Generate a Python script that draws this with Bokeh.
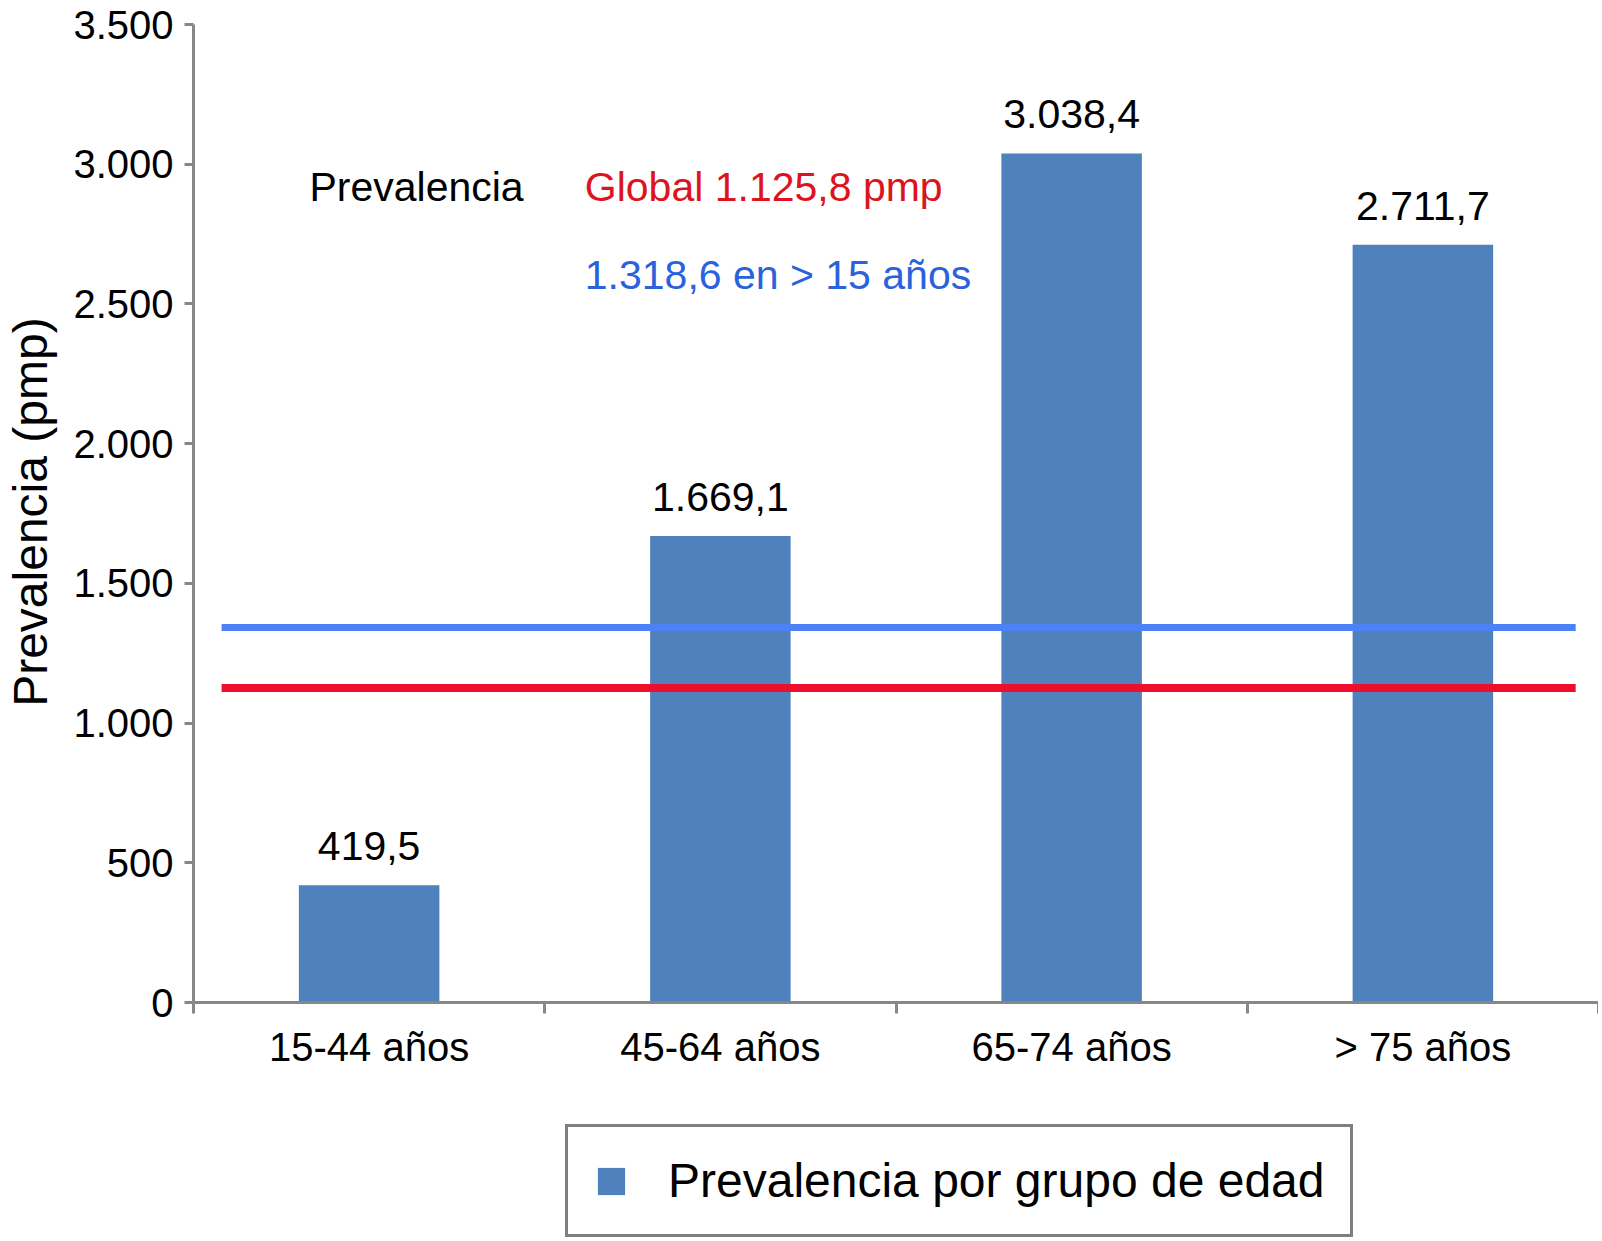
import math
from bokeh.plotting import figure
from bokeh.models import FixedTicker, Legend, LegendItem, Label
from bokeh.core.properties import value
from bokeh.embed import file_html
from bokeh.resources import INLINE

# data
grupos = ["15-44 años", "45-64 años", "65-74 años", "> 75 años"]
prevalencia = [419.5, 1669.1, 3038.4, 2711.7]
y_ticks = [0, 500, 1000, 1500, 2000, 2500, 3000, 3500]
# reference lines: global (red) and > 15 años (blue), as drawn
ref_niveles = [1125.8, 1342.0]
ref_colores = ["#ee0f2c", "#4c82f6"]
ref_anchos = [8, 7]

FONT = "Liberation Sans"
GRIS = "#878787"

# the frame fills the whole canvas; both axes are pinned inside it
W, H = 1598, 1238
LEFT, TOP, ZERO = 193, 24, 1002            # pixel positions of the y axis, 3500 and 0
px_y = (ZERO - TOP) / 3500
px_x = (W - LEFT) / 4
x_rango = (-LEFT / px_x, 4)
y_rango = (-(H - ZERO) / px_y, 3500 + TOP / px_y)

centros = [i + 0.5 for i in range(len(grupos))]
limites = list(range(len(grupos) + 1))
etiquetas = [f"{v:,.1f}".replace(",", "X").replace(".", ",").replace("X", ".") for v in prevalencia]

p = figure(width=W, height=H, x_range=x_rango, y_range=y_rango,
           output_backend="svg", toolbar_location=None, min_border=0)
p.outline_line_color = None
p.xgrid.visible = False
p.ygrid.visible = False

barras = p.vbar(x=centros, top=prevalencia, width=0.4, fill_color="#4f81bd", line_color=None)

p.segment(x0=[0.08] * 2, y0=ref_niveles, x1=[3.935] * 2, y1=ref_niveles,
          line_color=ref_colores, line_width=ref_anchos)

p.text(x=centros, y=prevalencia, text=etiquetas, y_offset=-39,
       text_align="center", text_baseline="middle",
       text_font=value(FONT), text_font_size=value("41px"), text_color="black")

p.add_layout(Label(x=0.33, y=2917, text="Prevalencia", text_baseline="middle",
                   text_font=FONT, text_font_size="41px", text_color="black"))
p.add_layout(Label(x=1.114, y=2917, text="Global 1.125,8 pmp", text_baseline="middle",
                   text_font=FONT, text_font_size="41px", text_color="#dc1420"))
p.add_layout(Label(x=1.114, y=2602, text="1.318,6 en > 15 años", text_baseline="middle",
                   text_font=FONT, text_font_size="41px", text_color="#2a62dd"))

# y axis title
p.add_layout(Label(x=(30 - LEFT) / px_x, y=1755, text="Prevalencia (pmp)", angle=math.pi / 2,
                   text_align="center", text_baseline="middle",
                   text_font=FONT, text_font_size="48px", text_color="black"))

# x axis at y=0: labels at centres, tick marks at the group boundaries
xa = p.xaxis[0]
xa.fixed_location = 0
xa.bounds = (0, 4)
xa.ticker = FixedTicker(ticks=centros, minor_ticks=limites)
xa.major_label_overrides = {c: g for c, g in zip(centros, grupos)}
xa.major_tick_line_color = None
xa.major_tick_in = 0
xa.major_tick_out = 0
xa.minor_tick_in = 0
xa.minor_tick_out = 11
xa.minor_tick_line_color = GRIS
xa.minor_tick_line_width = 3
xa.axis_line_color = GRIS
xa.axis_line_width = 3
xa.major_label_standoff = 11
xa.major_label_text_font = FONT
xa.major_label_text_font_size = "40px"
xa.major_label_text_color = "black"

ya = p.yaxis[0]
ya.fixed_location = 0
ya.bounds = (0, 3500)
ya.ticker = FixedTicker(ticks=y_ticks, minor_ticks=[])
ya.major_label_overrides = {t: f"{t:,}".replace(",", ".") for t in y_ticks}
ya.major_tick_in = 0
ya.major_tick_out = 9
ya.major_tick_line_color = GRIS
ya.major_tick_line_width = 3
ya.minor_tick_line_color = None
ya.axis_line_color = GRIS
ya.axis_line_width = 3
ya.major_label_standoff = 11
ya.major_label_text_font = FONT
ya.major_label_text_font_size = "40px"
ya.major_label_text_color = "black"

leyenda = Legend(items=[LegendItem(label="Prevalencia por grupo de edad", renderers=[barras])],
                 location=(LEFT + 372, 1), orientation="vertical",
                 padding=26, spacing=0, margin=0,
                 glyph_width=34, glyph_height=34, label_standoff=40,
                 label_text_font=FONT, label_text_font_size="48px", label_text_color="black",
                 border_line_color="black", border_line_width=3,
                 background_fill_color="white", background_fill_alpha=1.0)
p.add_layout(leyenda, "center")

open("out.html", "w").write(file_html(p, INLINE))
